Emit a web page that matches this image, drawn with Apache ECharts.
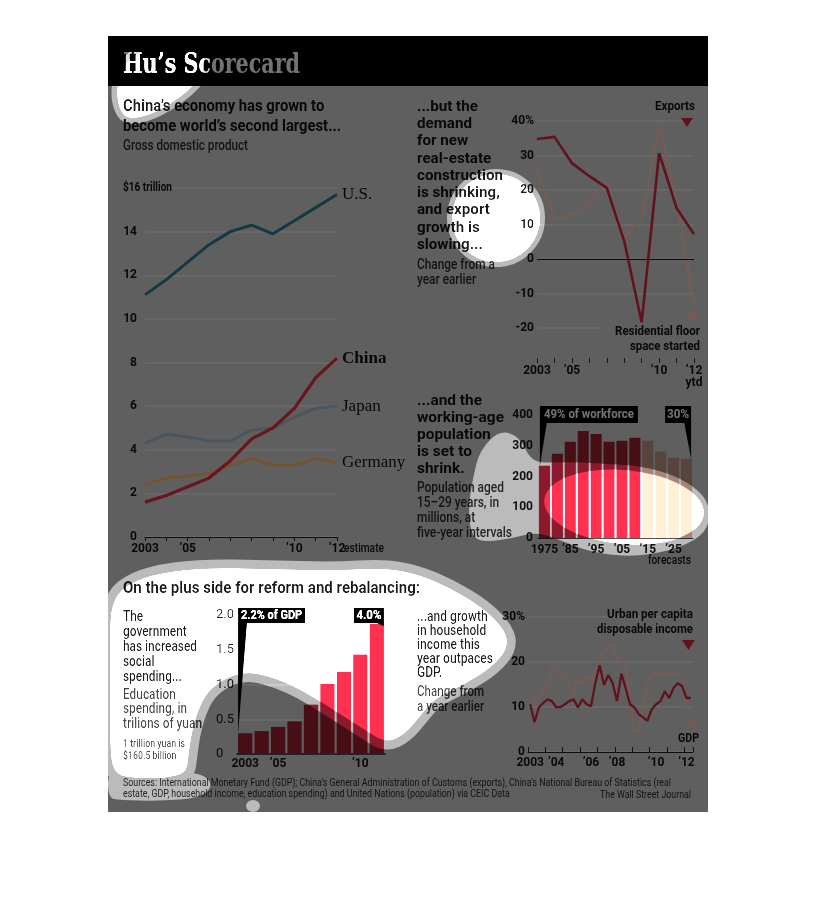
<!DOCTYPE html>
<html><head><meta charset="utf-8">
<script src="https://cdn.jsdelivr.net/npm/echarts@6/dist/echarts.min.js"></script>
<style>
html,body{margin:0;padding:0;background:#fff;}
#wrap{position:relative;width:816px;height:906px;}
#chart,#fx{position:absolute;left:0;top:0;width:816px;height:906px;}
#fx{pointer-events:none;}
</style>
</head><body>
<div id="wrap"><div id="chart"></div><canvas id="fx" width="816" height="906"></canvas></div>
<script>
// ---------------- DATA ----------------
const gdpYears = [2003,2004,2005,2006,2007,2008,2009,2010,2011,2012];
const gdpUS = [11.1,11.8,12.6,13.4,14.0,14.3,13.9,14.5,15.1,15.7];
const gdpChina = [1.6,1.9,2.3,2.7,3.5,4.5,5.0,5.9,7.3,8.2];
const gdpJapan = [4.3,4.7,4.6,4.4,4.4,4.9,5.0,5.5,5.9,6.0];
const gdpGermany = [2.4,2.7,2.8,2.9,3.3,3.6,3.3,3.3,3.6,3.4];
const gdpXTickLabels = {2003:'2003',2005:'\u201905',2010:'\u201910',2012:'\u201912'};
const gdpTopTickLabel = '$16 trillion';

const expYears = [2003,2004,2005,2006,2007,2008,2009,2010,2011,2012];
const exportsGrowth = [34.8,35.4,27.8,24.0,20.6,5.2,-18.4,30.7,14.8,7.2];
const residentialGrowth = [26.4,11.6,12.5,16.8,22.3,6.1,11.6,39.0,16.8,-13.0];
const expXTickLabels = {2003:'2003',2005:'\u201905',2010:'\u201910',2012:'\u201912\nytd'};

const popYears = ['1975','1980','1985','1990','1995','2000','2005','2010','2015','2020','2025','2030'];
const popValues = [235,274,313,348,338,313,316,326,316,281,261,258];
const popForecastFrom = '2015';
const popXTickLabels = {'1975':'1975','1985':'\u201985','1995':'\u201995','2005':'\u201905','2015':'\u201915','2025':'\u201925'};

const eduYears = ['2003','2004','2005','2006','2007','2008','2009','2010','2011'];
const eduValues = [0.30,0.33,0.39,0.47,0.71,1.01,1.18,1.43,1.87];
const eduXTickLabels = {'2003':'2003','2005':'\u201905','2010':'\u201910'};

const incomeQuarters = ['2003Q1','2003Q2','2003Q3','2003Q4','2004Q1','2004Q2','2004Q3','2004Q4',
 '2005Q1','2005Q2','2005Q3','2005Q4','2006Q1','2006Q2','2006Q3','2006Q4','2007Q1','2007Q2','2007Q3','2007Q4',
 '2008Q1','2008Q2','2008Q3','2008Q4','2009Q1','2009Q2','2009Q3','2009Q4','2010Q1','2010Q2','2010Q3','2010Q4',
 '2011Q1','2011Q2','2011Q3','2011Q4','2012Q1','2012Q2'];
const incomeUrban = [10.6,6.6,9.9,10.9,11.7,11.3,9.9,10.0,10.6,11.3,11.7,9.9,11.7,10.6,10.2,15.3,19.3,14.9,17.1,15.3,
 11.3,17.4,14.2,10.6,9.9,8.4,7.7,6.9,9.5,10.6,11.3,13.5,12.0,14.2,15.3,14.6,12.0,12.0];
const incomeGDP = [13.5,10.6,12.0,13.5,15.3,18.9,17.8,17.1,16.3,14.9,12.7,16.3,15.6,16.7,15.6,18.5,20.3,22.2,23.3,24.0,
 20.7,20.3,18.5,11.3,4.8,5.1,9.1,14.9,17.8,17.4,17.4,17.4,17.2,17.8,17.4,16.3,9.9,9.1];
const incomeXTickLabels = {'2003Q1':'2003','2004Q3':'\u201904','2006Q3':'\u201906','2008Q1':'\u201908','2010Q2':'\u201910','2012Q1':'\u201912'};

// ---------------- STYLE ----------------
const SANS = "Roboto, 'Noto Sans', 'DejaVu Sans', sans-serif";
const SERIF = "'Liberation Serif', 'DejaVu Serif', serif";
const SLAB = "'DejaVu Serif', 'Liberation Serif', serif";
const BG = 'rgb(212,212,212)', GRIDC = 'rgb(238,238,238)', INK = '#111', INK2 = '#2a2a2a';
const C_US = 'rgb(40,126,150)', C_CN = 'rgb(235,45,70)', C_JP = 'rgb(165,188,208)', C_DE = 'rgb(255,186,112)';
const C_EXP = 'rgb(218,40,62)', C_RES = 'rgb(255,205,185)';
const C_BAR = 'rgb(160,30,50)', C_FORE = 'rgb(190,150,135)';
const K_OUT = 0.45, K_F = 0.88, K_IN = 1.6;

const chart = echarts.init(document.getElementById('chart'), null, {renderer:'canvas', width:816, height:906});
const zip = (xs, ys) => xs.map((x,i)=>[x, ys[i]]);
const lbl = (extra) => Object.assign({fontFamily:SANS, fontSize:12, fontWeight:'bold', color:INK}, extra);
const lineS = (name, xi, data, color, w, extra) => Object.assign({type:'line', name, xAxisIndex:xi, yAxisIndex:xi, data,
  symbol:'none', showSymbol:false, lineStyle:{color, width:w}, itemStyle:{color}, silent:true}, extra||{});
const endLbl = (bold) => ({show:true, formatter:'{a}', distance:5, fontFamily:SERIF, fontSize:17, fontWeight: bold?'bold':'normal', color:INK});

const option = {
  backgroundColor:'#fff',
  animation:false,
  grid:[
    {left:145, top:188, width:192, height:349},
    {left:537, top:121, width:157, height:207},
    {left:538, top:415, width:155, height:123},
    {left:237, top:615, width:148, height:139},
    {left:528, top:617, width:165, height:135}
  ],
  xAxis:[
    {gridIndex:0, type:'value', min:2003, max:2012, interval:1,
      axisLine:{show:true, onZero:false, lineStyle:{color:'#222', width:1}}, axisTick:{show:true, length:4, lineStyle:{color:'#222'}},
      splitLine:{show:false}, axisLabel:lbl({margin:6, formatter:v=>gdpXTickLabels[v]||''})},
    {gridIndex:1, type:'value', min:2003, max:2012, interval:1, offset:30,
      axisLine:{show:false, onZero:false}, axisTick:{show:true, length:5, lineStyle:{color:'#333'}},
      splitLine:{show:false}, axisLabel:lbl({margin:7, lineHeight:12, formatter:v=>expXTickLabels[v]||''})},
    {gridIndex:2, type:'category', data:popYears,
      axisLine:{show:true, lineStyle:{color:'#333'}}, axisTick:{show:false},
      axisLabel:lbl({interval:0, margin:6, formatter:v=>popXTickLabels[v]||''})},
    {gridIndex:3, type:'category', data:eduYears,
      axisLine:{show:true, lineStyle:{color:'#222', width:1.5}}, axisTick:{show:false},
      axisLabel:lbl({interval:0, margin:4, formatter:v=>eduXTickLabels[v]||''})},
    {gridIndex:4, type:'category', data:incomeQuarters, boundaryGap:true,
      axisLine:{show:true, lineStyle:{color:'#222'}},
      axisTick:{show:true, inside:true, length:5, interval:(i,v)=>String(v).endsWith('Q1'), lineStyle:{color:'#222'}},
      axisLabel:lbl({interval:(i,v)=>(v in incomeXTickLabels), margin:5, formatter:v=>incomeXTickLabels[v]||''})}
  ],
  yAxis:[
    {gridIndex:0, type:'value', min:0, max:16, interval:2, axisLine:{show:false}, axisTick:{show:false},
      splitLine:{show:true, lineStyle:{color:GRIDC, width:1.5}},
      axisLabel:lbl({margin:8, formatter:v=> v===16 ? '' : String(v)})},
    {gridIndex:1, type:'value', min:-20, max:40, interval:10, axisLine:{show:false}, axisTick:{show:false},
      splitLine:{show:true, lineStyle:{color:GRIDC, width:1.5}},
      axisLabel:lbl({margin:3, formatter:v=> v===40 ? '40%' : String(v)})},
    {gridIndex:2, type:'value', min:0, max:400, interval:100, axisLine:{show:false}, axisTick:{show:false},
      splitLine:{show:false}, axisLabel:lbl({margin:5})},
    {gridIndex:3, type:'value', min:0, max:2, interval:0.5, axisLine:{show:false}, axisTick:{show:false},
      splitLine:{show:true, lineStyle:{color:GRIDC, width:1.5}},
      axisLabel:lbl({fontWeight:'normal', fontSize:13, align:'left', margin:21, formatter:v=> v===0 ? '0' : v.toFixed(1)})},
    {gridIndex:4, type:'value', min:0, max:30, interval:10, axisLine:{show:false}, axisTick:{show:false},
      splitLine:{show:true, lineStyle:{color:GRIDC, width:1.5}},
      axisLabel:lbl({margin:3, formatter:v=> v===30 ? '30%' : String(v)})}
  ],
  series:[
    lineS('Germany', 0, zip(gdpYears, gdpGermany), C_DE, 3, {endLabel:endLbl(false)}),
    lineS('Japan', 0, zip(gdpYears, gdpJapan), C_JP, 3, {endLabel:endLbl(false)}),
    lineS('U.S.', 0, zip(gdpYears, gdpUS), C_US, 3, {endLabel:endLbl(false)}),
    lineS('China', 0, zip(gdpYears, gdpChina), C_CN, 3.2, {endLabel:endLbl(true)}),
    lineS('Residential floor space started', 1, zip(expYears, residentialGrowth), C_RES, 2.6),
    lineS('Exports', 1, zip(expYears, exportsGrowth), C_EXP, 2.6, {markLine:{silent:true, symbol:'none', label:{show:false},
      lineStyle:{color:'#111', width:1, type:'solid'}, data:[{yAxis:0}]}}),
    {type:'bar', xAxisIndex:2, yAxisIndex:2, barCategoryGap:'14%', silent:true,
      data: popValues.map((v,i)=>({value:v, itemStyle:{color: popYears[i] >= popForecastFrom ? C_FORE : C_BAR}}))},
    {type:'bar', xAxisIndex:3, yAxisIndex:3, barCategoryGap:'13%', silent:true, data: eduValues, itemStyle:{color:C_BAR}},
    lineS('GDP', 4, incomeGDP, C_RES, 2.3),
    lineS('Urban per capita disposable income', 4, incomeUrban, C_EXP, 2.3)
  ]
};
chart.setOption(option);

// ---------------- TEXT & ANNOTATIONS ----------------
const mctx = document.createElement('canvas').getContext('2d');
function textBlock(b){
  const font = (b.weight||'500') + ' ' + b.size + 'px ' + (b.family||SANS);
  mctx.font = font;
  const ref = b.lines[b.ref||0];
  const s = b.w ? b.w / mctx.measureText(ref).width : 1;
  return b.lines.map((t,i)=>({type:'text', z:20, silent:true, x:b.x, y:b.y + i*(b.lh||0), scaleX:s,
    style:{text:t, font:font, fill:b.color||INK, align:b.align||'left', verticalAlign:'middle'}}));
}
const P = (si, pt) => chart.convertToPixel({seriesIndex:si}, pt);

const G = [];
G.push({type:'rect', z:-10, silent:true, shape:{x:108,y:36,width:600,height:776}, style:{fill:BG}});
G.push({type:'rect', z:-9, silent:true, shape:{x:108,y:36,width:600,height:50}, style:{fill:'#000'}});
G.push({type:'rect', z:1, silent:true, shape:{x:603,y:324,width:97,height:30}, style:{fill:BG}});

const blocks = [
  {lines:['Hu\u2019s Scorecard'], x:123, y:66, size:28, weight:'bold', family:SLAB, color:'#fff', w:177},
  {lines:['China\u2019s economy has grown to','become world\u2019s second largest...'], x:123, y:107, lh:20, size:16, weight:'bold', ref:1, w:218},
  {lines:['Gross domestic product'], x:123, y:146, size:14, color:INK2, w:125},
  {lines:['...but the','demand','for new','real-estate','construction','is shrinking,','and export','growth is','slowing...'], x:417, y:107, lh:17.25, size:15, weight:'bold', ref:4, w:86},
  {lines:['Change from a','year earlier'], x:417, y:265, lh:15, size:14, color:INK2, w:78},
  {lines:['...and the','working-age','population','is set to','shrink.'], x:417, y:401, lh:17, size:15, weight:'bold', ref:1, w:87},
  {lines:['Population aged','15\u201329 years, in','millions, at','five-year intervals'], x:417, y:488, lh:15.3, size:14, color:INK2, ref:3, w:95},
  {lines:['On the plus side for reform and rebalancing:'], x:123, y:589, size:16, weight:'bold', w:297},
  {lines:['The','government','has increased','social','spending...'], x:123, y:617, lh:15, size:15, ref:2, w:74},
  {lines:['Education','spending, in','trilions of yuan'], x:123, y:695, lh:14.7, size:15, color:INK2, ref:2, w:79},
  {lines:['1 trillion yuan is','$160.5 billion'], x:123, y:744, lh:12.5, size:11.5, color:INK2, w:62},
  {lines:['...and growth','in household','income this','year outpaces','GDP.'], x:417, y:617, lh:14, size:15, ref:3, w:76},
  {lines:['Change from','a year earlier'], x:417, y:692, lh:15, size:15, color:INK2, ref:1, w:67},
  {lines:['Sources: International Monetary Fund (GDP); China\u2019s General Administration of Customs (exports), China\u2019s National Bureau of Statistics (real',
          'estate, GDP, household income, education spending) and United Nations (population) via CEIC Data'], x:123, y:783, lh:11.5, size:11, weight:'normal', color:INK2, w:548},
  {lines:['The Wall Street Journal'], x:691, y:795, size:11, weight:'normal', color:INK2, align:'right', w:91},
  {lines:['Exports'], x:695, y:107, size:13, weight:'bold', align:'right', w:40},
  {lines:['Residential floor'], x:700, y:332, size:13, weight:'bold', align:'right', w:85},
  {lines:['space started'], x:700, y:347, size:13, weight:'bold', align:'right', w:70},
  {lines:['Urban per capita'], x:693, y:615, size:13, weight:'bold', align:'right', w:86},
  {lines:['disposable income'], x:693, y:630, size:13, weight:'bold', align:'right', w:96},
  {lines:['GDP'], x:699, y:739, size:13, weight:'bold', align:'right', w:21},
  {lines:['forecasts'], x:648, y:561, size:12.5, w:43}
];
// $16 trillion top tick label & '12 estimate
const top16 = P(2, [2003, 16]);
blocks.push({lines:[gdpTopTickLabel], x:123, y:top16[1], size:12, weight:'bold', w:49});
const end12 = P(2, [2012, 0]);
blocks.push({lines:['estimate'], x:end12[0]+7, y:end12[1]+12, size:12.5, w:40});

// triangles
G.push({type:'polygon', z:20, silent:true, shape:{points:[[681,118],[693,118],[687,127]]}, style:{fill:C_EXP}});
G.push({type:'polygon', z:20, silent:true, shape:{points:[[686,320],[700,320],[693,310]]}, style:{fill:C_RES}});
G.push({type:'polygon', z:20, silent:true, shape:{points:[[682,640],[695,640],[688.5,650]]}, style:{fill:C_EXP}});
G.push({type:'polygon', z:20, silent:true, shape:{points:[[687,727],[699,727],[693,717]]}, style:{fill:C_RES}});

// callouts tied to bars
function callout(boxX, boxY, boxW, boxH, text, wedge, tw){
  G.push({type:'rect', z:15, silent:true, shape:{x:boxX,y:boxY,width:boxW,height:boxH}, style:{fill:'#000'}});
  G.push({type:'polygon', z:15, silent:true, shape:{points:wedge}, style:{fill:'#000'}});
  blocks.push({lines:[text], x:boxX+boxW/2, y:boxY+boxH/2+0.5, size:12, weight:'bold', color:'#fff', align:'center', w:tw});
}
const pb0 = P(6, [popYears[0], popValues[0]]), pb1 = P(6, [popYears[1], popValues[1]]);
const popBW = (pb1[0]-pb0[0])*0.86;
const popL = pb0[0]-popBW/2;
callout(popL+1, 406, 98, 17, '49% of workforce', [[popL+1,422],[popL+8,422],[popL+1,pb0[1]]], 90);
const pbN = P(6, [popYears[popYears.length-1], popValues[popValues.length-1]]);
const popR = pbN[0]+popBW/2;
callout(popR-27, 406, 26, 17, '30%', [[popR-1,422],[popR-8,422],[popR-1,pbN[1]]], 22);
const eb0 = P(7, [eduYears[0], eduValues[0]]), eb1 = P(7, [eduYears[1], eduValues[1]]);
const eduBW = (eb1[0]-eb0[0])*0.87;
const eduL = eb0[0]-eduBW/2;
callout(eduL, 608, 67, 15, '2.2% of GDP', [[eduL,622],[eduL+9,622],[eduL,eb0[1]]], 61);
const ebN = P(7, [eduYears[eduYears.length-1], eduValues[eduValues.length-1]]);
const eduR = ebN[0]+eduBW/2;
callout(eduR-30, 608, 30, 15, '4.0%', [[eduR,622],[eduR-10,622],[eduR,ebN[1]+2]], 25);

blocks.forEach(b => textBlock(b).forEach(e => G.push(e)));
chart.setOption({graphic:{elements:G}});

// ---------------- SPOTLIGHT EFFECT ----------------
const coreShapes = [
  {band:12, pts:[[134,54],[158,49],[186,49],[207,56],[201,77],[188,91],[169,105],[147,116],[126,119],[118,105],[117,86],[123,68]]},
  {band:10, ell:[496,218,44,44,0]},
  {band:10, ell:[624,507,80,37,0.09]},
  {band:18, pts:[[112,605],[122,588],[150,575],[200,568],[267,569],[333,571],[383,568],[417,574],[450,588],[483,608],[505,630],[508,648],[492,667],[465,684],[435,698],[420,716],[405,734],[386,743],[365,730],[340,714],[315,698],[290,684],[265,675],[245,672],[225,678],[207,692],[197,712],[191,735],[188,758],[186,773],[165,778],[135,778],[113,774],[110,740],[110,680],[110,630]]}
];
const fringeShapes = [
  {pts:[[480,450],[500,430],[520,437],[532,463],[560,462],[600,463],[640,467],[680,480],[705,498],[711,517],[702,537],[670,551],[630,557],[590,552],[560,540],[537,532],[513,538],[487,542],[472,538],[468,510],[473,477]]},
  {pts:[[108,768],[160,774],[200,772],[214,785],[200,798],[160,801],[120,800],[108,798]]},
  {ell:[253,806,7,6,0]}
];
function shapePath(c, s){
  c.beginPath();
  if (s.ell){ c.ellipse(s.ell[0], s.ell[1], s.ell[2], s.ell[3], s.ell[4], 0, Math.PI*2); c.closePath(); return; }
  const p = s.pts, n = p.length, mid = (a,b)=>[(a[0]+b[0])/2,(a[1]+b[1])/2];
  const st = mid(p[n-1], p[0]); c.moveTo(st[0], st[1]);
  for (let i=0;i<n;i++){ const q = mid(p[i], p[(i+1)%n]); c.quadraticCurveTo(p[i][0], p[i][1], q[0], q[1]); }
  c.closePath();
}
function applyFx(src){
  const W = 816, H = 906;
  const fx = document.getElementById('fx'), ctx = fx.getContext('2d');
  ctx.drawImage(src, 0, 0, W, H);
  const img = ctx.getImageData(0,0,W,H);
  const m = document.createElement('canvas'); m.width = W; m.height = H;
  const mc = m.getContext('2d');
  mc.save(); mc.beginPath(); mc.rect(108,36,600,776); mc.clip();
  mc.fillStyle = 'rgb(0,0,0)'; mc.fillRect(108,36,600,776);
  mc.fillStyle = 'rgb(128,128,128)'; mc.strokeStyle = 'rgb(128,128,128)';
  fringeShapes.forEach(s=>{ shapePath(mc, s); mc.fill(); });
  coreShapes.forEach(s=>{ shapePath(mc, s); mc.lineWidth = s.band; mc.stroke(); });
  mc.fillStyle = 'rgb(255,255,255)';
  coreShapes.forEach(s=>{ shapePath(mc, s); mc.fill(); });
  mc.restore();
  const md = mc.getImageData(0,0,W,H).data, d = img.data;
  for (let i=0;i<d.length;i+=4){
    if (md[i+3]===0) continue;
    const v = md[i];
    const k = v<=128 ? K_OUT + (K_F-K_OUT)*v/128 : K_F + (K_IN-K_F)*(v-128)/127;
    d[i] = Math.min(255, d[i]*k); d[i+1] = Math.min(255, d[i+1]*k); d[i+2] = Math.min(255, d[i+2]*k);
  }
  ctx.putImageData(img, 0, 0);
}
let done = false;
function run(src){ if (done || !src) return; try { applyFx(src); done = true; } catch(e){ console.error(e); } }
let src0 = null;
try { if (chart.renderToCanvas) src0 = chart.renderToCanvas({pixelRatio:1, backgroundColor:'#fff'}); } catch(e){}
if (!src0) { try { if (chart.getRenderedCanvas) src0 = chart.getRenderedCanvas({pixelRatio:1, backgroundColor:'#fff'}); } catch(e){} }
if (src0) run(src0);
if (!done) chart.on('finished', () => run(chart.getDom().querySelector('canvas')));
</script>
</body></html>
